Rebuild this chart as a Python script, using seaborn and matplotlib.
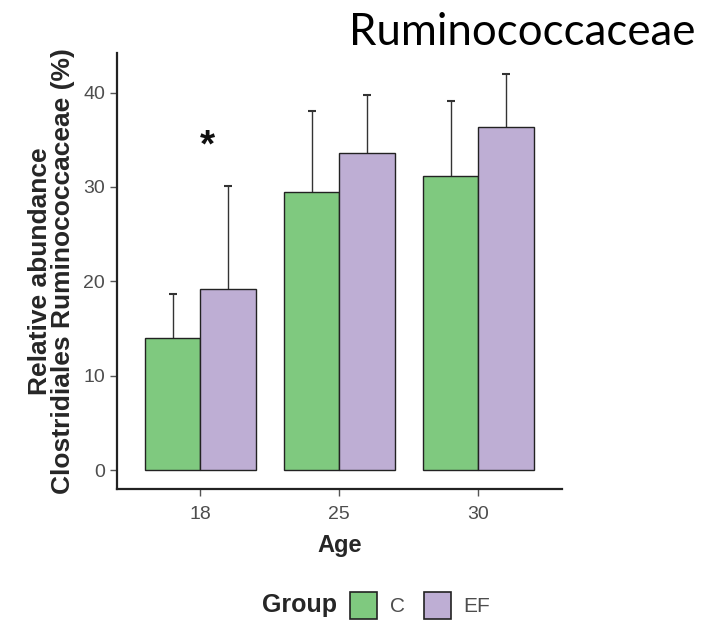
import numpy as np
import pandas as pd
import matplotlib.pyplot as plt
import seaborn as sns
from matplotlib.patches import Patch

# values
ages = ["18", "25", "30"]
groups = ["C", "EF"]
mean_c = [14.0, 29.5, 31.2]
mean_ef = [19.2, 33.6, 36.3]
err_c = [4.7, 8.5, 7.9]
err_ef = [10.9, 6.1, 5.7]
colors = ["#7fc97f", "#beaed4"]

df = pd.DataFrame({
    "Age": ages * 2,
    "Group": ["C"] * 3 + ["EF"] * 3,
    "value": mean_c + mean_ef,
    "err": err_c + err_ef,
})

sns.set_style("white")
plt.rcParams["font.family"] = ["Liberation Sans", "DejaVu Sans"]

fig = plt.figure(figsize=(7.22, 6.22), dpi=100)
ax = fig.add_axes([0.162, 0.214, 0.616, 0.701])

sns.barplot(data=df, x="Age", y="value", hue="Group", order=ages, hue_order=groups,
            palette=colors, saturation=1, width=0.8, errorbar=None,
            edgecolor="#222222", linewidth=1.0, legend=False, ax=ax)

# upper error bars only, at bar centres
for container, g in zip(ax.containers, groups):
    sub = df[df["Group"] == g].set_index("Age").loc[ages]
    xs = [p.get_x() + p.get_width() / 2 for p in container.patches]
    eb = ax.errorbar(xs, sub["value"], yerr=[np.zeros(len(xs)), sub["err"]],
                     fmt="none", ecolor="#333333", elinewidth=1.0, capsize=3,
                     capthick=1.5, zorder=0)
    eb[1][0].set_visible(False)  # hide the lower cap

ax.text(0.05, 34.3, "*", ha="center", va="center", fontsize=28,
        fontweight="bold", color="#111111")

ax.set_xlim(-0.6, 2.6)
ax.set_ylim(-2.0, 44.2)
ax.set_yticks([0, 10, 20, 30, 40])
ax.set_xlabel("Age", fontsize=17, fontweight="bold", labelpad=8)
ax.set_ylabel("Relative abundance\nClostridiales Ruminococcaceae (%)", fontsize=19,
              fontweight="bold", labelpad=6, linespacing=0.95)
ax.tick_params(axis="both", labelsize=14, labelcolor="#4d4d4d", length=5,
               width=1, color="#555555", bottom=True, left=True)
ax.tick_params(axis="x", pad=7)
sns.despine(ax=ax)
for s in ["left", "bottom"]:
    ax.spines[s].set_linewidth(1.6)
    ax.spines[s].set_color("#222222")

fig.text(0.963, 0.948, "Ruminococcaceae", ha="right", va="center", fontsize=31.5,
         family=["Lato", "DejaVu Sans"], color="black")

# legend below the plot
fig.text(0.467, 0.027, "Group", ha="right", va="center", fontsize=18,
         fontweight="bold")
handles = [Patch(facecolor=c, edgecolor="#222222", linewidth=1.2) for c in colors]
fig.legend(handles, groups, loc="center left", bbox_to_anchor=(0.485, 0.027),
           ncol=2, frameon=False, fontsize=15, handlelength=1.3, handleheight=1.6,
           handletextpad=0.6, columnspacing=0.9, labelcolor="#4d4d4d",
           borderpad=0.0, borderaxespad=0.0)

fig.savefig("out.png", dpi=100)
